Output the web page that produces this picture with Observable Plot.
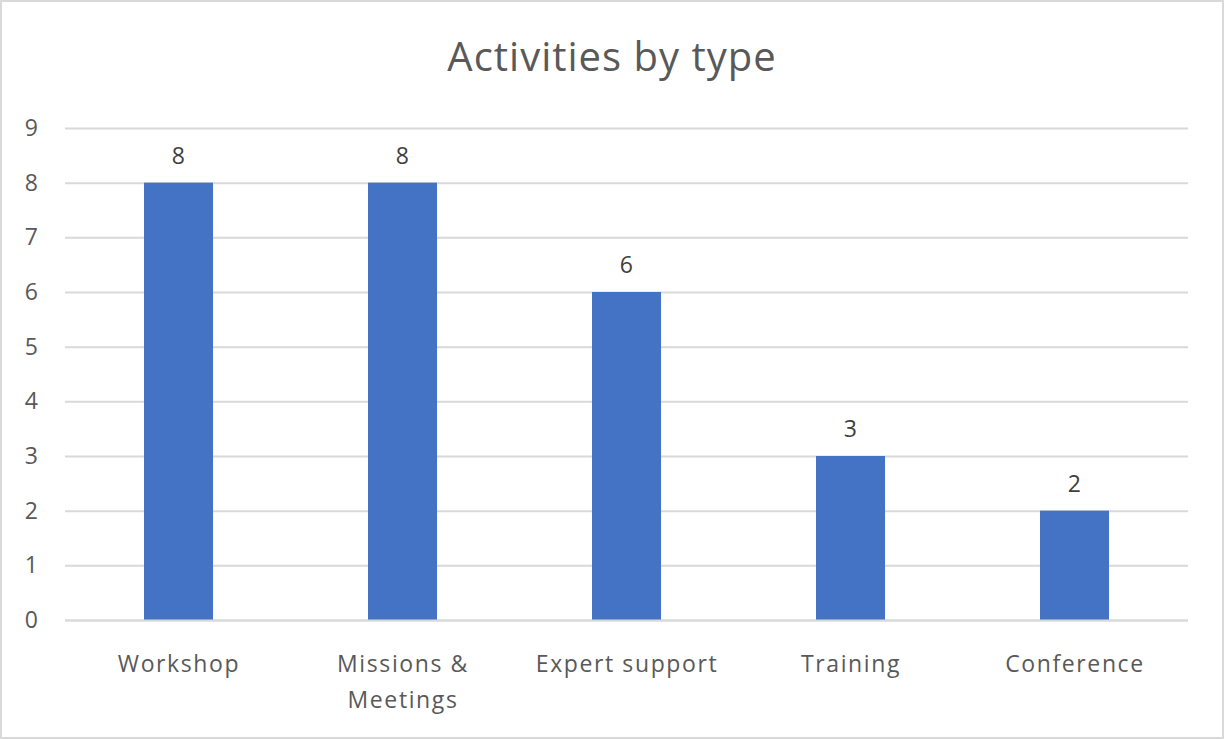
<!DOCTYPE html>
<html>
<head>
<meta charset="utf-8">
<script src="https://cdn.jsdelivr.net/npm/d3@7"></script>
<script src="https://cdn.jsdelivr.net/npm/@observablehq/plot@0.6"></script>
<style>
  html, body { margin: 0; padding: 0; background: #fff; }
  #frame { position: relative; width: 1220px; height: 735px; border: 2px solid #d9d9d9; background: #fff; overflow: hidden; }
  #title { height: 98px; line-height: 108px; text-align: center; font-family: "Open Sans", sans-serif; font-size: 40px; letter-spacing: 1px; color: #595959; }
  #chart svg { display: block; }
  #chart svg text { letter-spacing: 1.6px; }
</style>
</head>
<body>
<div id="frame">
  <div id="title">Activities by type</div>
  <div id="chart"></div>
</div>
<script>
const categories = ["Workshop", "Missions & Meetings", "Expert support", "Training", "Conference"];
const values = [8, 8, 6, 3, 2];
const categoryLabels = ["Workshop", "Missions &\nMeetings", "Expert support", "Training", "Conference"];
const yTicks = [0, 1, 2, 3, 4, 5, 6, 7, 8, 9];

const data = categories.map((c, i) => ({category: c, value: values[i], label: categoryLabels[i]}));
const labelOf = new Map(data.map(d => [d.category, d.label]));

const chart = Plot.plot({
  width: 1220,
  height: 637,
  marginTop: 28,
  marginBottom: 117,
  marginLeft: 63,
  marginRight: 34,
  style: {fontFamily: "'Open Sans', sans-serif", fontSize: "23px", color: "#595959", background: "#fff"},
  x: {domain: categories, paddingInner: 0.69, paddingOuter: 0.345, label: null},
  y: {domain: [0, 9], label: null},
  marks: [
    Plot.gridY(yTicks, {stroke: "#d9d9d9", strokeWidth: 2, strokeOpacity: 1}),
    Plot.barY(data, {x: "category", y: "value", fill: "#4472C4"}),
    Plot.ruleY([0], {stroke: "#d9d9d9", strokeWidth: 2}),
    Plot.text(data, {x: "category", y: "value", text: d => String(d.value), dy: -27, fill: "#404040", fontSize: 23}),
    Plot.axisY(yTicks, {tickSize: 0, tickPadding: 26, fontSize: 23, fill: "#595959", label: null, tickFormat: d => String(d)}),
    Plot.axisX({tickSize: 0, tickPadding: 25, fontSize: 23, fill: "#595959", label: null, tickFormat: c => labelOf.get(c), lineHeight: 1.6})
  ]
});
document.getElementById("chart").appendChild(chart);
</script>
</body>
</html>
